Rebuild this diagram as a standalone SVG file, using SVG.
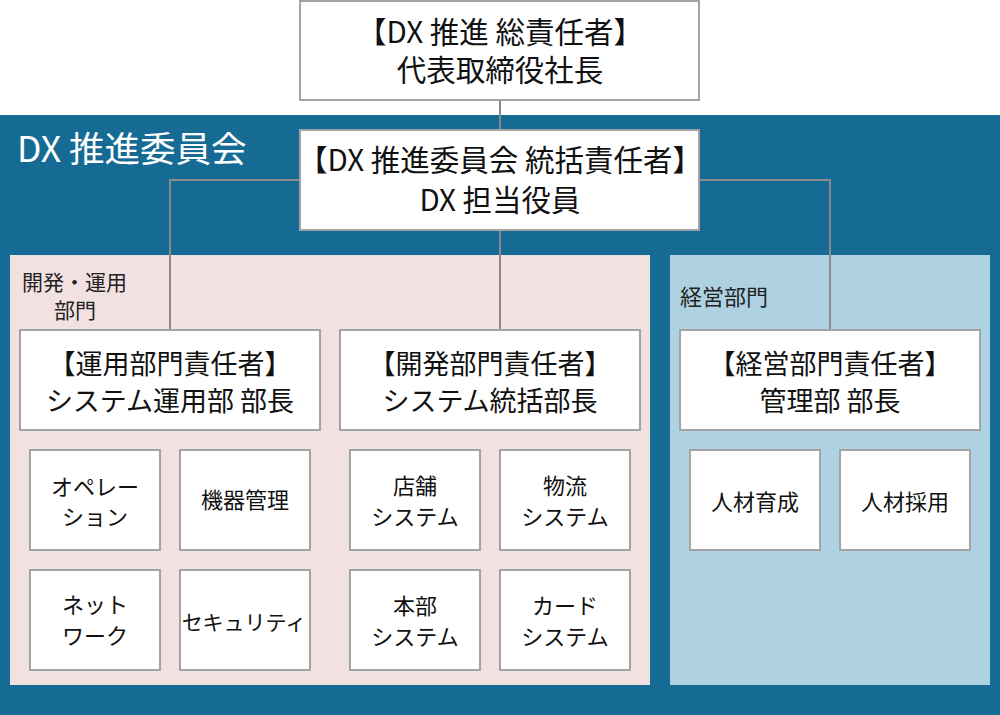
<svg xmlns="http://www.w3.org/2000/svg" width="1000" height="715" viewBox="0 0 1000 715">
<style>
.box{fill:#fff;stroke:#a3a3a3;stroke-width:2}
.sbox{fill:#fff;stroke:#a3a3a3;stroke-width:2}
.t{font-family:"Noto Sans CJK JP","Noto Sans",sans-serif;fill:#111;text-anchor:middle}
.big{font-size:29.5px}
.mid{font-size:27px}
.sm{font-size:22px}
.lbl{font-family:"Noto Sans CJK JP","Noto Sans",sans-serif;font-size:21px;fill:#222}
.conn{fill:none;stroke:#8a8a8a;stroke-width:2}
</style>
<rect x="0" y="0" width="1000" height="715" fill="#fff"/>
<g id="committee">
<rect x="0" y="115" width="1000" height="600" fill="#156b93"/>
<text x="17" y="162" font-family="&quot;Noto Sans CJK JP&quot;,&quot;Noto Sans&quot;,sans-serif" font-size="35.5" fill="#fff">DX 推進委員会</text>
</g>
<g id="dev-ops-area">
<rect x="10" y="255" width="640" height="430" fill="#f2e1e1"/>
<text class="lbl" x="22" y="290">開発・運用</text>
<text class="lbl" x="75" y="318" text-anchor="middle">部門</text>
</g>
<g id="mgmt-area">
<rect x="670" y="255" width="320" height="430" fill="#afd2e3"/>
<text class="lbl" x="680" y="305" style="font-size:22px">経営部門</text>
</g>
<g id="connectors">
<path class="conn" d="M500 101V130"/>
<path class="conn" d="M500 230V330"/>
<path class="conn" d="M300 180H170V330"/>
<path class="conn" d="M700 180H830V330"/>
</g>
<g id="ceo">
<rect class="box" x="300" y="1" width="399" height="99"/>
<text class="t big" x="500" y="43">【DX 推進 総責任者】</text>
<text class="t big" x="500" y="81">代表取締役社長</text>
</g>
<g id="dx-officer">
<rect class="box" x="300" y="130" width="399" height="100"/>
<text class="t big" x="500" y="171">【DX 推進委員会 統括責任者】</text>
<text class="t big" x="500" y="211">DX 担当役員</text>
</g>
<g id="ops-head">
<rect class="box" x="20" y="330" width="300" height="100"/>
<text class="t mid" x="170" y="374">【運用部門責任者】</text>
<text class="t mid" x="170" y="411">システム運用部 部長</text>
</g>
<g id="dev-head">
<rect class="box" x="340" y="330" width="300" height="100"/>
<text class="t mid" x="490" y="374">【開発部門責任者】</text>
<text class="t mid" x="490" y="411">システム統括部長</text>
</g>
<g id="mgmt-head">
<rect class="box" x="680" y="330" width="300" height="100"/>
<text class="t mid" x="830" y="374">【経営部門責任者】</text>
<text class="t mid" x="830" y="411">管理部 部長</text>
</g>
<g id="operation">
<rect class="sbox" x="30" y="450" width="130" height="100"/>
<text class="t sm" x="95" y="495">オペレー</text>
<text class="t sm" x="95" y="525">ション</text>
</g>
<g id="equipment">
<rect class="sbox" x="180" y="450" width="130" height="100"/>
<text class="t sm" x="245" y="508">機器管理</text>
</g>
<g id="network">
<rect class="sbox" x="30" y="570" width="130" height="100"/>
<text class="t sm" x="95" y="613">ネット</text>
<text class="t sm" x="95" y="644">ワーク</text>
</g>
<g id="security">
<rect class="sbox" x="180" y="570" width="130" height="100"/>
<text class="t sm" x="244" y="630" style="font-size:21px">セキュリティ</text>
</g>
<g id="store-sys">
<rect class="sbox" x="350" y="450" width="130" height="100"/>
<text class="t sm" x="415" y="494">店舗</text>
<text class="t sm" x="415" y="525">システム</text>
</g>
<g id="logistics-sys">
<rect class="sbox" x="500" y="450" width="130" height="100"/>
<text class="t sm" x="565" y="494">物流</text>
<text class="t sm" x="565" y="525">システム</text>
</g>
<g id="hq-sys">
<rect class="sbox" x="350" y="570" width="130" height="100"/>
<text class="t sm" x="415" y="614">本部</text>
<text class="t sm" x="415" y="645">システム</text>
</g>
<g id="card-sys">
<rect class="sbox" x="500" y="570" width="130" height="100"/>
<text class="t sm" x="565" y="614">カード</text>
<text class="t sm" x="565" y="645">システム</text>
</g>
<g id="hr-dev">
<rect class="sbox" x="690" y="450" width="130" height="100"/>
<text class="t sm" x="755" y="510">人材育成</text>
</g>
<g id="hr-recruit">
<rect class="sbox" x="840" y="450" width="130" height="100"/>
<text class="t sm" x="905" y="510">人材採用</text>
</g>
</svg>
